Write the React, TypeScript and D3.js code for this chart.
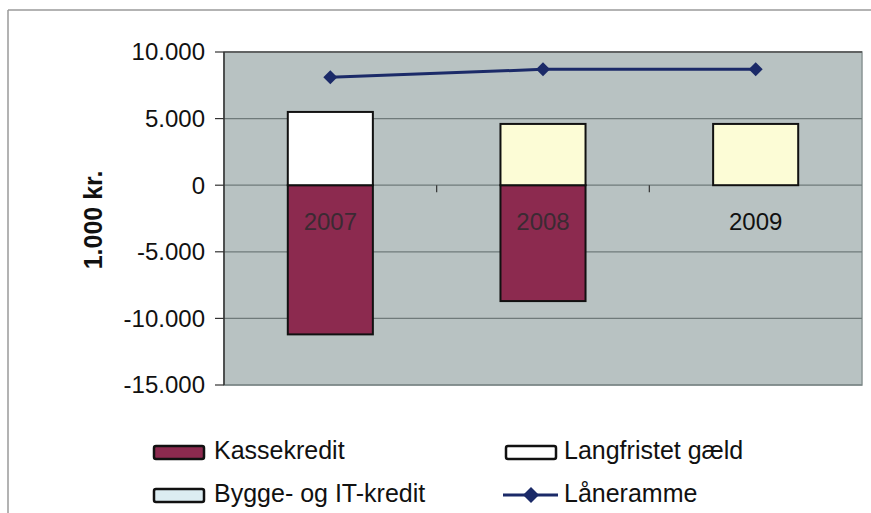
import React from "react";
import * as d3 from "d3";

const categories = ["2007", "2008", "2009"];
const kassekredit = [-11200, -8700, 0];
const langfristet = [5500, 0, 0];
const bygge = [0, 4600, 4600];
const laaneramme = [8100, 8700, 8700];
const yTicks = [10000, 5000, 0, -5000, -10000, -15000];

const W = 871;
const H = 513;
const FONT = "'Liberation Sans', Arial, sans-serif";

const fmt = (v: number) => {
  const s = Math.abs(v).toString().replace(/\B(?=(\d{3})+(?!\d))/g, ".");
  return (v < 0 ? "-" : "") + s;
};

export default function App() {
  const y = d3.scaleLinear().domain([-15000, 10000]).range([385, 52]);
  const x = d3
    .scaleBand<string>()
    .domain(categories)
    .range([224, 862])
    .paddingInner(0.6)
    .paddingOuter(0.3);
  const bw = x.bandwidth();
  const step = x.step();
  const cx = (c: string) => (x(c) as number) + bw / 2;

  const line = d3
    .line<number>()
    .x((_, i) => cx(categories[i]))
    .y((d) => y(d));

  const labelColors = ["#3b2a33", "#3b2a33", "#111"];
  const NAVY = "#1b2a68";

  return (
    <svg
      width={W}
      height={H}
      style={{ position: "absolute", left: 0, top: 0, background: "#fff" }}
      fontFamily={FONT}
    >
      {/* outer frame */}
      <line x1={8} y1={10} x2={871} y2={10} stroke="#9a9a9a" strokeWidth={1.5} />
      <line x1={8} y1={10} x2={8} y2={513} stroke="#9a9a9a" strokeWidth={1.5} />

      {/* plot area */}
      <rect x={224} y={52} width={638} height={333} fill="#b8c2c2" stroke="#8a9494" strokeWidth={1.5} />
      {yTicks.map((t) => (
        <line key={t} x1={224} x2={862} y1={y(t)} y2={y(t)} stroke="#6f7a7a" strokeWidth={1.2} />
      ))}
      <line x1={224} x2={862} y1={52} y2={52} stroke="#555" strokeWidth={1.5} />
      {/* y axis */}
      <line x1={224} x2={224} y1={52} y2={385} stroke="#333" strokeWidth={1.5} />
      {yTicks.map((t) => (
        <g key={"t" + t}>
          <line x1={215} x2={224} y1={y(t)} y2={y(t)} stroke="#333" strokeWidth={1.2} />
          <text x={205} y={y(t)} dy="0.35em" textAnchor="end" fontSize={24} fill="#111">
            {fmt(t)}
          </text>
        </g>
      ))}
      <text
        transform={`translate(102,220) rotate(-90)`}
        textAnchor="middle"
        fontSize={25}
        fontWeight="bold"
        fill="#111"
      >
        1.000 kr.
      </text>

      {/* bars */}
      {categories.map((c, i) => {
        const x0 = x(c) as number;
        const parts: React.ReactNode[] = [];
        if (kassekredit[i] !== 0)
          parts.push(
            <rect key="k" x={x0} y={y(0)} width={bw} height={y(kassekredit[i]) - y(0)} fill="#8c2a4f" stroke="#111" strokeWidth={2} />
          );
        let base = 0;
        if (langfristet[i] !== 0) {
          parts.push(
            <rect key="l" x={x0} y={y(base + langfristet[i])} width={bw} height={y(base) - y(base + langfristet[i])} fill="#ffffff" stroke="#111" strokeWidth={2} />
          );
          base += langfristet[i];
        }
        if (bygge[i] !== 0) {
          parts.push(
            <rect key="b" x={x0} y={y(base + bygge[i])} width={bw} height={y(base) - y(base + bygge[i])} fill="#fcfcd6" stroke="#111" strokeWidth={2} />
          );
        }
        return <g key={c}>{parts}</g>;
      })}

      {/* category ticks on zero line */}
      {[1, 2].map((k) => (
        <line key={k} x1={224 + step * k} x2={224 + step * k} y1={y(0)} y2={y(0) + 7} stroke="#333" strokeWidth={1.2} />
      ))}
      {categories.map((c, i) => (
        <text key={"c" + c} x={cx(c)} y={230} textAnchor="middle" fontSize={24} fill={labelColors[i]}>
          {c}
        </text>
      ))}

      {/* line */}
      <path d={line(laaneramme) || ""} fill="none" stroke={NAVY} strokeWidth={3} />
      {laaneramme.map((v, i) => {
        const px = cx(categories[i]);
        const py = y(v);
        return (
          <path key={"m" + i} d={`M${px},${py - 7}L${px + 7},${py}L${px},${py + 7}L${px - 7},${py}Z`} fill={NAVY} />
        );
      })}

      {/* legend */}
      <rect x={154} y={446} width={50} height={13} fill="#8c2a4f" stroke="#111" strokeWidth={2.5} rx={2} />
      <text x={214} y={459} fontSize={25} fill="#111">Kassekredit</text>
      <rect x={154} y={489} width={50} height={13} fill="#dcedf2" stroke="#111" strokeWidth={2.5} rx={2} />
      <text x={214} y={502} fontSize={25} fill="#111">Bygge- og IT-kredit</text>
      <rect x={506} y={446} width={50} height={13} fill="#ffffff" stroke="#111" strokeWidth={2.5} rx={2} />
      <text x={564} y={459} fontSize={25} fill="#111">Langfristet gæld</text>
      <line x1={503} x2={558} y1={495} y2={495} stroke={NAVY} strokeWidth={3} />
      <path d="M531,487L539,495L531,503L523,495Z" fill={NAVY} />
      <text x={564} y={502} fontSize={25} fill="#111">Låneramme</text>
    </svg>
  );
}
